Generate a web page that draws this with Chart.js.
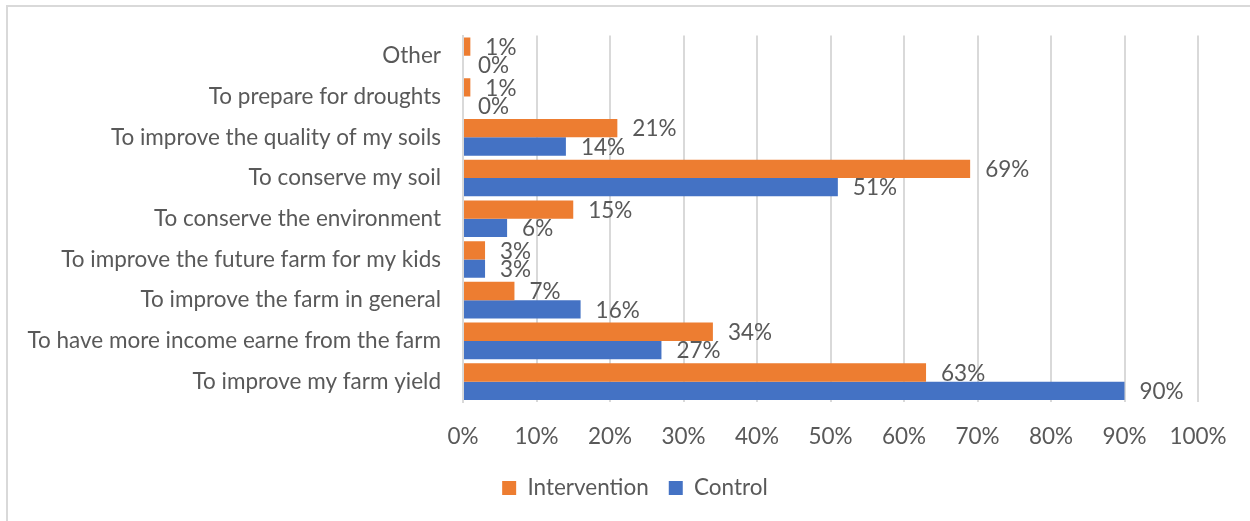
<!DOCTYPE html>
<html>
<head>
<meta charset="utf-8">
<script src="https://cdn.jsdelivr.net/npm/chart.js@4"></script>
<style>
    html, body { margin: 0; padding: 0; background: #fff; overflow: hidden; }
    #frame { position: absolute; left: 6px; top: 5px; width: 1300px; height: 600px;
             border-top: 2px solid #d9d9d9; border-left: 2px solid #d9d9d9; }
    #wrap { position: absolute; left: 0; top: 0; width: 1250px; height: 521px; }
</style>
</head>
<body>
<div id="frame"></div>
<div id="wrap"><canvas id="bar"></canvas></div>
<script>
"use strict";

const reasons = [
    "Other",
    "To prepare for droughts",
    "To improve the quality of my soils",
    "To conserve my soil",
    "To conserve the environment",
    "To improve the future farm for my kids",
    "To improve the farm in general",
    "To have more income earne from the farm",
    "To improve my farm yield"
];
const intervention = [1, 1, 21, 69, 15, 3, 7, 34, 63];
const control = [0, 0, 14, 51, 6, 3, 16, 27, 90];
const percentTicks = [0, 10, 20, 30, 40, 50, 60, 70, 80, 90, 100];

const textColor = '#595959';
const fontFamily = 'Lato, "Open Sans", sans-serif';
const fontSize = 22.5;

/**
 * skriver ut procentvärdet till höger om varje stapel
 */
const valueLabels = {
    id: 'valueLabels',
    afterDatasetsDraw(chart) {
        const ctx = chart.ctx;
        ctx.save();
        ctx.font = fontSize + 'px ' + fontFamily;
        ctx.fillStyle = textColor;
        ctx.textAlign = 'left';
        ctx.textBaseline = 'middle';
        chart.data.datasets.forEach((ds, i) => {
            chart.getDatasetMeta(i).data.forEach((bar, j) => {
                ctx.fillText(ds.data[j] + '%', bar.x + 15, bar.y + 1);
            });
        });
        ctx.restore();
    }
};

/**
 * flyttar förklaringen lite åt höger så att den hamnar under diagrammets mitt
 */
const legendShift = {
    id: 'legendShift',
    afterLayout(chart) {
        if (chart.legend) {
            chart.legend.left += 36;
            chart.legend.right += 36;
        }
    }
};

window.onload = () => {
    drawChart();
}

function drawChart() {
    const barDiagram = document.getElementById('bar');
    Chart.defaults.color = textColor;
    Chart.defaults.font.family = fontFamily;
    new Chart(barDiagram, {
        type: 'bar',
        data: {
            labels: reasons,
            datasets: [{
                label: 'Intervention',
                data: intervention,
                backgroundColor: '#ED7D31',
                barPercentage: 1,
                categoryPercentage: 0.9
            }, {
                label: 'Control',
                data: control,
                backgroundColor: '#4472C4',
                barPercentage: 1,
                categoryPercentage: 0.9
            }]
        },
        plugins: [valueLabels, legendShift],
        options: {
            indexAxis: 'y',
            responsive: true,
            maintainAspectRatio: false,
            animation: false,
            layout: {
                padding: { top: 35, right: 52, left: 0, bottom: 11.75 }
            },
            scales: {
                x: {
                    min: 0,
                    max: 100,
                    afterBuildTicks: scale => {
                        scale.ticks = percentTicks.map(v => ({ value: v }));
                    },
                    afterFit: scale => { scale.height = 54.75; },
                    ticks: {
                        font: { size: fontSize },
                        padding: 21,
                        callback: v => v + '%'
                    },
                    grid: { color: '#d9d9d9', lineWidth: 2, drawTicks: false },
                    border: { display: false }
                },
                y: {
                    afterFit: scale => { scale.width = 463; },
                    ticks: {
                        font: { size: fontSize },
                        padding: 22
                    },
                    grid: { display: false, drawTicks: false },
                    border: { display: true, color: '#d9d9d9', width: 2 }
                }
            },
            plugins: {
                tooltip: { enabled: false },
                legend: {
                    position: 'bottom',
                    labels: {
                        font: { size: fontSize },
                        boxWidth: 14,
                        boxHeight: 14,
                        padding: 20,
                        color: textColor
                    }
                }
            }
        }
    });
}
</script>
</body>
</html>
